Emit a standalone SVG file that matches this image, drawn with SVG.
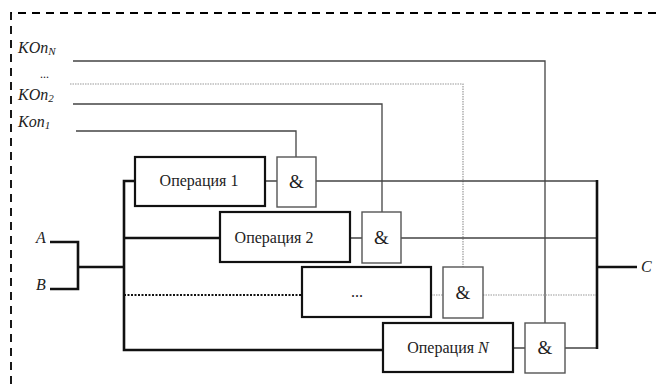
<svg xmlns="http://www.w3.org/2000/svg" width="658" height="384" viewBox="0 0 658 384">
<style>
.t{font-family:"Liberation Serif","Times New Roman",serif;fill:#222}
.i{font-style:italic}
.op{fill:#fff;stroke:#111;stroke-width:2.2}
.gate{fill:#fff;stroke:#555;stroke-width:1.4}
.w{fill:none;stroke:#444;stroke-width:1.3}
.wd{fill:none;stroke:#999;stroke-width:1.2;stroke-dasharray:1.5 1}
.bus{fill:none;stroke:#111;stroke-width:2.6}
.bd{fill:none;stroke:#111;stroke-width:1.8;stroke-dasharray:2 1.5}
</style>
<rect width="658" height="384" fill="#fff"/>
<path d="M11 384 V13 H658" fill="none" stroke="#000" stroke-width="1.8" stroke-dasharray="8 6"/>
<g id="labels">
<text class="t i" x="18" y="53" font-size="16">KOn<tspan font-size="11" dy="2">N</tspan></text>
<text class="t" x="40" y="78" font-size="12">...</text>
<text class="t i" x="18" y="100" font-size="16">KOn<tspan font-size="11" dy="2">2</tspan></text>
<text class="t i" x="18" y="127" font-size="16">Kon<tspan font-size="11" dy="2">1</tspan></text>
<text class="t i" x="36" y="243" font-size="16">A</text>
<text class="t i" x="36" y="290" font-size="16">B</text>
<text class="t i" x="641" y="272" font-size="16">C</text>
</g>
<g id="connectors">
<path class="w" d="M73 61 H545 V323"/>
<path class="wd" d="M70 84 H463 V267"/>
<path class="w" d="M73 104 H382 V212"/>
<path class="w" d="M76 131 H296 V157"/>
<path class="bus" d="M50 242 H78 V289 H50 M78 267 H124"/>
<path class="bus" d="M135 181 H124 V350 H383"/>
<path class="bus" d="M124 238 H220"/>
<path class="bd" d="M124 295 H302"/>
<path class="w" d="M265 181 H277 M316 181 H597"/>
<path class="w" d="M350 238 H362 M401 238 H597"/>
<path class="wd" d="M431 295 H443 M483 295 H597" stroke="#555"/>
<path class="w" d="M513 348 H525 M565 348 H597"/>
<path class="bus" d="M597 180 V349"/>
<path class="bus" d="M597 267 H637" stroke-width="2"/>
</g>
<g id="op1"><rect class="op" x="135" y="157" width="130" height="49"/><text class="t" x="199" y="186" font-size="16" text-anchor="middle">Операция 1</text></g>
<g id="and1"><rect class="gate" x="277" y="157" width="39" height="50"/><text class="t" x="296.5" y="188" font-size="19" text-anchor="middle">&amp;</text></g>
<g id="op2"><rect class="op" x="220" y="212" width="130" height="50"/><text class="t" x="274" y="243" font-size="16" text-anchor="middle">Операция 2</text></g>
<g id="and2"><rect class="gate" x="362" y="212" width="39" height="51"/><text class="t" x="381.5" y="244" font-size="19" text-anchor="middle">&amp;</text></g>
<g id="opdots"><rect class="op" x="302" y="267" width="129" height="50"/><text class="t" x="357" y="297" font-size="16" text-anchor="middle">...</text></g>
<g id="anddots"><rect class="gate" x="443" y="267" width="40" height="51"/><text class="t" x="463" y="299" font-size="19" text-anchor="middle">&amp;</text></g>
<g id="opN"><rect class="op" x="383" y="323" width="130" height="49"/><text class="t" x="448" y="353" font-size="16" text-anchor="middle">Операция <tspan class="i">N</tspan></text></g>
<g id="andN"><rect class="gate" x="525" y="323" width="40" height="50"/><text class="t" x="545" y="354" font-size="19" text-anchor="middle">&amp;</text></g>
</svg>
